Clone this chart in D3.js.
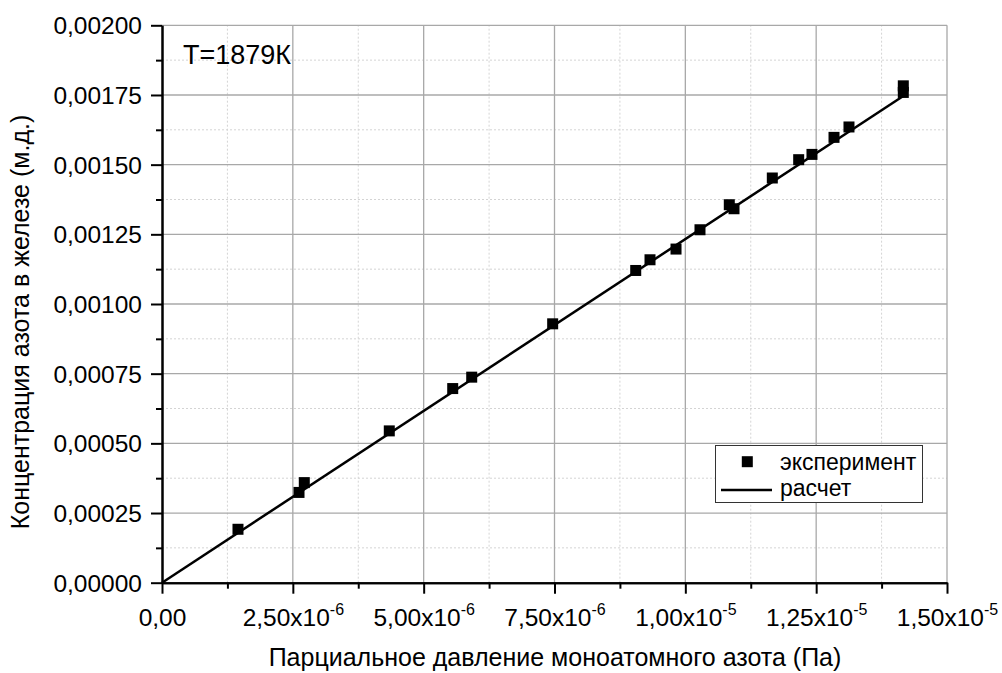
<!DOCTYPE html>
<html>
<head>
<meta charset="utf-8">
<script src="https://cdn.jsdelivr.net/npm/d3@7"></script>
<style>
  html, body { margin: 0; padding: 0; background: #fff; }
  svg { display: block; font-family: "Liberation Sans", Arial, sans-serif; }
</style>
</head>
<body>
<svg id="chart" width="1002" height="673"></svg>
<script>
// Experimental points: partial pressure of monatomic nitrogen (Pa) vs nitrogen concentration in iron
const expPressure = [1.452e-6, 2.618e-6, 2.719e-6, 4.343e-6, 5.555e-6, 5.918e-6, 7.465e-6,
  9.052e-6, 9.325e-6, 9.822e-6, 1.0280e-5, 1.0840e-5, 1.0930e-5, 1.1662e-5, 1.2166e-5,
  1.2420e-5, 1.2841e-5, 1.3127e-5, 1.4165e-5, 1.4165e-5];
const expConc = [1.917e-4, 3.239e-4, 3.591e-4, 5.447e-4, 6.966e-4, 7.375e-4, 9.289e-4,
  1.1203e-3, 1.1587e-3, 1.1971e-3, 1.2664e-3, 1.3562e-3, 1.3418e-3, 1.4521e-3, 1.5178e-3,
  1.5368e-3, 1.5979e-3, 1.6352e-3, 1.7828e-3, 1.7591e-3];

// Calculated line
const calcPressure = [0, 1.4165e-5];
const calcConc = [0, 1.7465e-3];

// Axis ticks
const xMajorTicks = [0, 2.5e-6, 5e-6, 7.5e-6, 1e-5, 1.25e-5, 1.5e-5];
const xTickMantissa = ["0,00", "2,50x10", "5,00x10", "7,50x10", "1,00x10", "1,25x10", "1,50x10"];
const xTickExponent = ["", "-6", "-6", "-6", "-5", "-5", "-5"];
const xMinorTicks = [1.25e-6, 3.75e-6, 6.25e-6, 8.75e-6, 1.125e-5, 1.375e-5];
const yMajorTicks = [0, 0.00025, 0.0005, 0.00075, 0.001, 0.00125, 0.0015, 0.00175, 0.002];
const yTickLabels = ["0,00000", "0,00025", "0,00050", "0,00075", "0,00100", "0,00125", "0,00150", "0,00175", "0,00200"];
const yMinorTicks = [0.000125, 0.000375, 0.000625, 0.000875, 0.001125, 0.001375, 0.001625, 0.001875];

const xTitle = "Парциальное давление моноатомного азота (Па)";
const yTitle = "Концентрация азота в железе (м.д.)";
const annotation = "T=1879К";
const legendLabels = ["эксперимент", "расчет"];

const FONT = "Liberation Sans, Arial, sans-serif";
const svg = d3.select("#chart");
const plotLeft = 162, plotRight = 947, plotTop = 25.3, plotBottom = 582.7;

const x = d3.scaleLinear().domain([0, 1.5e-5]).range([plotLeft, plotRight]);
const y = d3.scaleLinear().domain([0, 0.002]).range([plotBottom, plotTop]);

svg.append("rect").attr("width", 1002).attr("height", 673).attr("fill", "#fff");

// Grid: minor dotted, major solid
const grid = svg.append("g");
grid.selectAll(".xminor").data(xMinorTicks).join("line")
  .attr("x1", d => x(d)).attr("x2", d => x(d)).attr("y1", plotBottom).attr("y2", plotTop)
  .attr("stroke", "#d4d4d4").attr("stroke-width", 1).attr("stroke-dasharray", "2,2");
grid.selectAll(".yminor").data(yMinorTicks).join("line")
  .attr("y1", d => y(d)).attr("y2", d => y(d)).attr("x1", plotLeft).attr("x2", plotRight)
  .attr("stroke", "#d4d4d4").attr("stroke-width", 1).attr("stroke-dasharray", "2,2");
grid.selectAll(".xmajor").data(xMajorTicks.slice(1)).join("line")
  .attr("x1", d => x(d)).attr("x2", d => x(d)).attr("y1", plotBottom).attr("y2", plotTop)
  .attr("stroke", "#a8a8a8").attr("stroke-width", 1.3);
grid.selectAll(".ymajor").data(yMajorTicks.slice(1)).join("line")
  .attr("y1", d => y(d)).attr("y2", d => y(d)).attr("x1", plotLeft).attr("x2", plotRight)
  .attr("stroke", "#a8a8a8").attr("stroke-width", 1.3);

// Calculated line
const line = d3.line().x(d => x(d[0])).y(d => y(d[1]));
svg.append("path")
  .datum(d3.zip(calcPressure, calcConc))
  .attr("d", line).attr("fill", "none").attr("stroke", "#000").attr("stroke-width", 2.5);

// Experimental markers
const ms = 11;
svg.append("g").selectAll("rect").data(d3.zip(expPressure, expConc)).join("rect")
  .attr("x", d => x(d[0]) - ms / 2).attr("y", d => y(d[1]) - ms / 2)
  .attr("width", ms).attr("height", ms).attr("fill", "#000");

// Axes
function styleAxis(g) {
  g.select(".domain").attr("stroke", "#000").attr("stroke-width", 2);
  g.selectAll(".tick line").attr("stroke", "#000").attr("stroke-width", 2);
}
const xMinorAxis = d3.axisBottom(x).tickValues(xMinorTicks).tickSize(6).tickFormat("").tickSizeOuter(0);
svg.append("g").attr("transform", `translate(0,${plotBottom})`).call(xMinorAxis).call(styleAxis);
const xAxis = d3.axisBottom(x).tickValues(xMajorTicks).tickSize(11).tickSizeOuter(0).tickFormat("");
const xg = svg.append("g").attr("transform", `translate(0,${plotBottom})`).call(xAxis).call(styleAxis);
xg.selectAll(".tick text").remove();
xg.selectAll(".tick").each(function (d, i) {
  const t = d3.select(this).append("text")
    .attr("y", 43).attr("fill", "#000").attr("font-size", 24.5)
    .attr("font-family", FONT)
    .attr("text-anchor", "middle");
  t.append("tspan").text(xTickMantissa[i]);
  if (xTickExponent[i]) {
    t.append("tspan").attr("dy", -11).attr("font-size", 16).text(xTickExponent[i]);
  }
});

const yMinorAxis = d3.axisLeft(y).tickValues(yMinorTicks).tickSize(6).tickFormat("").tickSizeOuter(0);
svg.append("g").attr("transform", `translate(${plotLeft},0)`).call(yMinorAxis).call(styleAxis);
const yAxis = d3.axisLeft(y).tickValues(yMajorTicks).tickSize(11).tickSizeOuter(0)
  .tickFormat((d, i) => yTickLabels[i]);
const yg = svg.append("g").attr("transform", `translate(${plotLeft},0)`).call(yAxis).call(styleAxis);
yg.selectAll(".tick text").attr("font-size", 24.5).attr("fill", "#000")
  .attr("font-family", FONT).attr("x", -20).attr("dy", "0.35em");

// Axis titles
svg.append("text").attr("x", 555).attr("y", 666).attr("text-anchor", "middle")
  .attr("font-family", FONT).attr("font-size", 25).attr("fill", "#000").text(xTitle);
svg.append("text").attr("transform", "translate(29,322) rotate(-90)").attr("text-anchor", "middle")
  .attr("font-family", FONT).attr("font-size", 25).attr("fill", "#000").text(yTitle);

// Temperature note
svg.append("text").attr("x", 183).attr("y", 64).attr("font-family", FONT)
  .attr("font-size", 27).attr("fill", "#000").text(annotation);

// Legend
const lg = svg.append("g").attr("font-family", FONT);
lg.append("rect").attr("x", 715.5).attr("y", 445.5).attr("width", 207).attr("height", 57)
  .attr("fill", "#fff").attr("stroke", "#333").attr("stroke-width", 1);
lg.append("rect").attr("x", 747.3 - ms / 2).attr("y", 461.7 - ms / 2).attr("width", ms).attr("height", ms).attr("fill", "#000");
lg.append("line").attr("x1", 721).attr("x2", 772).attr("y1", 490).attr("y2", 490)
  .attr("stroke", "#000").attr("stroke-width", 2.5);
lg.append("text").attr("x", 780).attr("y", 469.5).attr("font-size", 23).attr("fill", "#000").text(legendLabels[0]);
lg.append("text").attr("x", 780).attr("y", 496).attr("font-size", 23).attr("fill", "#000").text(legendLabels[1]);
</script>
</body>
</html>
